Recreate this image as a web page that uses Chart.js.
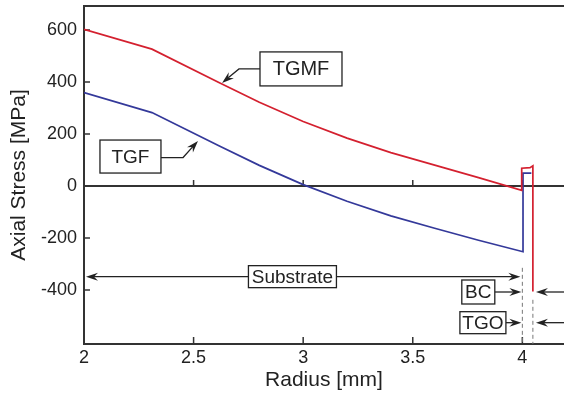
<!DOCTYPE html>
<html>
<head>
<meta charset="utf-8">
<title>Axial stress vs radius</title>
<script src="https://cdn.jsdelivr.net/npm/chart.js@4/dist/chart.umd.min.js"></script>
<style>
  html, body { margin: 0; padding: 0; background: #fff; }
  #wrap { width: 564px; height: 397px; }
</style>
</head>
<body>
<div id="wrap"><canvas id="stressChart" width="564" height="397"></canvas></div>
<script>
// Curves (radius in mm, axial stress in MPa)
const tgmfRadius = [2.0, 2.31, 2.62, 2.8, 3.0, 3.2, 3.4, 3.6, 3.8, 3.997, 3.997, 4.035, 4.048, 4.048];
const tgmfStress = [602, 526, 396, 322, 248, 184, 128, 80, 32, -17, 68, 70, 77, -406];
const tgfRadius = [2.0, 2.31, 2.62, 2.8, 3.0, 3.2, 3.4, 3.6, 3.8, 4.003, 4.003, 4.041];
const tgfStress = [359, 282, 153, 79, 5, -59, -115, -163, -209, -253, 49, 49];

// Axis ticks
const radiusTicks = [2, 2.5, 3, 3.5, 4];
const stressTicks = [-400, -200, 0, 200, 400, 600];

// Boxed labels in the figure
const seriesNames = ['TGMF', 'TGF'];
const layerNames = ['Substrate', 'BC', 'TGO'];

const FONT = '"Liberation Sans", Arial, Helvetica, sans-serif';
const INK = '#222';
const AXIS = '#333';

function toPoints(xs, ys) {
    return xs.map((x, i) => ({ x: x, y: ys[i] }));
}

// filled, slightly notched arrow head with its tip at (tx, ty)
function arrowHead(ctx, tx, ty, dx, dy) {
    const len = 12, half = 4, notch = 8;
    const px = -dy, py = dx;
    const bx = tx - dx * len, by = ty - dy * len;
    ctx.beginPath();
    ctx.moveTo(tx, ty);
    ctx.lineTo(bx + px * half, by + py * half);
    ctx.lineTo(tx - dx * notch, ty - dy * notch);
    ctx.lineTo(bx - px * half, by - py * half);
    ctx.closePath();
    ctx.fill();
}

// polyline whose last point gets an arrow head
function arrowPath(ctx, pts) {
    const n = pts.length;
    const [ax, ay] = pts[n - 2], [tx, ty] = pts[n - 1];
    const d = Math.hypot(tx - ax, ty - ay);
    const dx = (tx - ax) / d, dy = (ty - ay) / d;
    ctx.beginPath();
    ctx.moveTo(pts[0][0], pts[0][1]);
    for (let i = 1; i < n - 1; i++) ctx.lineTo(pts[i][0], pts[i][1]);
    ctx.lineTo(tx - dx * 8, ty - dy * 8);
    ctx.stroke();
    arrowHead(ctx, tx, ty, dx, dy);
}

function labelBox(ctx, cx, cy, w, h, text, size) {
    ctx.fillStyle = '#fff';
    ctx.fillRect(cx - w / 2, cy - h / 2, w, h);
    ctx.strokeRect(cx - w / 2, cy - h / 2, w, h);
    ctx.fillStyle = INK;
    ctx.font = size + 'px ' + FONT;
    ctx.textAlign = 'center';
    ctx.textBaseline = 'middle';
    ctx.fillText(text, cx, cy + 1);
}

// no extra room for end labels: the frame sits where the figure puts it
function noEdgePadding(s) {
    s.paddingTop = 0;
    s.paddingBottom = 0;
    s.paddingLeft = 0;
    s.paddingRight = 0;
}

// axes frame, zero line and inward ticks
const framePlugin = {
    id: 'frame',
    beforeDatasetsDraw(chart) {
        const { ctx, chartArea: a, scales: { x, y } } = chart;
        const y0 = y.getPixelForValue(0);
        ctx.save();
        ctx.strokeStyle = AXIS;
        ctx.lineWidth = 2;
        ctx.beginPath();
        ctx.moveTo(a.right, a.top);
        ctx.lineTo(a.left, a.top);
        ctx.lineTo(a.left, a.bottom);
        ctx.lineTo(a.right, a.bottom);
        ctx.moveTo(a.left, y0);
        ctx.lineTo(a.right, y0);
        ctx.stroke();
        ctx.lineWidth = 1.5;
        ctx.beginPath();
        stressTicks.forEach(v => {
            const py = y.getPixelForValue(v);
            ctx.moveTo(a.left, py);
            ctx.lineTo(a.left + 6, py);
        });
        radiusTicks.slice(1).forEach(v => {
            const px = x.getPixelForValue(v);
            ctx.moveTo(px, a.bottom);
            ctx.lineTo(px, a.bottom - 7);
            ctx.moveTo(px, y0);
            ctx.lineTo(px, y0 - 6);
        });
        ctx.stroke();
        ctx.restore();
    },
    afterDatasetsDraw(chart) {
        const { ctx, chartArea: a, scales: { x, y } } = chart;
        const X = v => x.getPixelForValue(v);
        const Y = v => y.getPixelForValue(v);
        ctx.save();
        ctx.strokeStyle = INK;
        ctx.fillStyle = INK;
        ctx.lineWidth = 1.3;

        // layer boundaries
        ctx.save();
        ctx.strokeStyle = '#777';
        ctx.lineWidth = 1;
        ctx.setLineDash([4, 3]);
        ctx.beginPath();
        ctx.moveTo(X(4.0), Y(-315));
        ctx.lineTo(X(4.0), a.bottom);
        ctx.moveTo(X(4.048), Y(-438));
        ctx.lineTo(X(4.048), a.bottom);
        ctx.stroke();
        ctx.restore();

        // TGMF callout
        const mx = X(2.99), my = Y(450);
        arrowPath(ctx, [[mx - 41, my], [X(2.707), my], [X(2.63), Y(396)]]);
        labelBox(ctx, mx, my, 82, 34, seriesNames[0], 20);

        // TGF callout
        const gx = X(2.212), gy = Y(113);
        ctx.fillStyle = INK;
        arrowPath(ctx, [[gx + 30, gy + 1], [X(2.452), gy + 1], [X(2.52), Y(173)]]);
        labelBox(ctx, gx, gy, 61, 33, seriesNames[1], 19);

        // substrate span
        const sy = Y(-349);
        ctx.fillStyle = INK;
        arrowPath(ctx, [[X(2.95), sy], [X(2.0) + 2, sy]]);
        arrowPath(ctx, [[X(2.95), sy], [X(4.0) - 2, sy]]);
        labelBox(ctx, X(2.951), sy, 88, 22, layerNames[0], 19);

        // BC and TGO spans
        const rows = [[layerNames[1], 3.799, -408, 33, 24], [layerNames[2], 3.82, -526, 46, 22]];
        rows.forEach(([name, cxv, cyv, w, h]) => {
            const cx = X(cxv), cy = Y(cyv);
            ctx.fillStyle = INK;
            arrowPath(ctx, [[cx + w / 2, cy], [X(4.0) - 1, cy]]);
            arrowPath(ctx, [[a.right + 2, cy], [X(4.062), cy]]);
            labelBox(ctx, cx, cy, w, h, name, 19);
        });
        ctx.restore();
    }
};

const chart = new Chart(document.getElementById('stressChart'), {
    type: 'scatter',
    data: {
        datasets: [
            {
                label: seriesNames[0],
                data: toPoints(tgmfRadius, tgmfStress),
                showLine: true,
                borderColor: '#d4202f',
                borderWidth: 1.7,
                pointRadius: 0,
                tension: 0,
                order: 0
            },
            {
                label: seriesNames[1],
                data: toPoints(tgfRadius, tgfStress),
                showLine: true,
                borderColor: '#34399a',
                borderWidth: 1.7,
                pointRadius: 0,
                tension: 0,
                order: 1
            }
        ]
    },
    options: {
        responsive: false,
        animation: false,
        devicePixelRatio: 1,
        layout: { padding: { top: 6, right: 0, bottom: 0, left: 0 } },
        plugins: {
            legend: { display: false },
            tooltip: { enabled: false }
        },
        scales: {
            x: {
                type: 'linear',
                min: 2,
                max: 4.19,
                afterBuildTicks: s => { s.ticks = radiusTicks.map(v => ({ value: v })); },
                afterFit: s => { s.height = 53; noEdgePadding(s); },
                grid: { display: false, drawTicks: false },
                border: { display: false },
                ticks: {
                    color: INK,
                    font: { family: FONT, size: 18 },
                    padding: 3,
                    maxRotation: 0,
                    autoSkip: false,
                    callback: v => String(v)
                },
                title: {
                    display: true,
                    text: 'Radius [mm]',
                    color: INK,
                    font: { family: FONT, size: 21 },
                    padding: { top: 0, bottom: 4 }
                }
            },
            y: {
                type: 'linear',
                min: -608,
                max: 692,
                afterBuildTicks: s => { s.ticks = stressTicks.map(v => ({ value: v })); },
                afterFit: s => { s.width = 84; noEdgePadding(s); },
                grid: { display: false, drawTicks: false },
                border: { display: false },
                ticks: {
                    color: INK,
                    font: { family: FONT, size: 18 },
                    padding: 7,
                    callback: v => String(v)
                },
                title: {
                    display: true,
                    text: 'Axial Stress [MPa]',
                    color: INK,
                    font: { family: FONT, size: 21 },
                    padding: { top: 7, bottom: 0 }
                }
            }
        }
    },
    plugins: [framePlugin]
});
</script>
</body>
</html>
